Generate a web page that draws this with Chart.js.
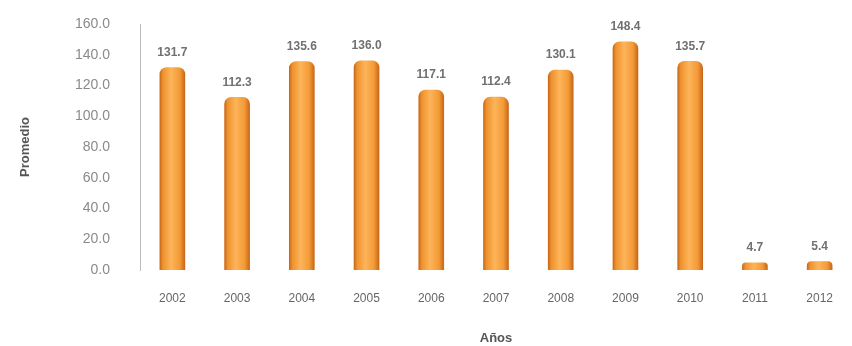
<!DOCTYPE html>
<html>
<head>
<meta charset="utf-8">
<script src="https://cdn.jsdelivr.net/npm/chart.js@4/dist/chart.umd.min.js"></script>
<style>
html,body{margin:0;padding:0;background:#fff;}
#wrap{width:852px;height:346px;position:relative;}
</style>
</head>
<body>
<div id="wrap"><canvas id="c" width="852" height="346"></canvas></div>
<script>
const categories = ["2002","2003","2004","2005","2006","2007","2008","2009","2010","2011","2012"];
const promedio = [131.7,112.3,135.6,136.0,117.1,112.4,130.1,148.4,135.7,4.7,5.4];
const yTicks = [0,20,40,60,80,100,120,140,160];

const cylinderPlugin = {
  id: 'cylinder',
  beforeDatasetsDraw(chart) {
    const ctx = chart.ctx;
    chart.getDatasetMeta(0).data.forEach(el => {
      const half = el.width / 2;
      const g = ctx.createLinearGradient(el.x - half, 0, el.x + half, 0);
      g.addColorStop(0, '#C9691A');
      g.addColorStop(0.12, '#EE922E');
      g.addColorStop(0.45, '#FDB45A');
      g.addColorStop(0.8, '#F39A36');
      g.addColorStop(1, '#C8681A');
      el.options.backgroundColor = g;
    });
  }
};

const labelPlugin = {
  id: 'valueLabels',
  afterDatasetsDraw(chart) {
    const ctx = chart.ctx;
    ctx.save();
    ctx.font = 'bold 12px "Liberation Sans", Arial, sans-serif';
    ctx.fillStyle = '#707070';
    ctx.textAlign = 'center';
    ctx.textBaseline = 'middle';
    chart.getDatasetMeta(0).data.forEach((el, i) => {
      ctx.fillText(promedio[i].toFixed(1), el.x, el.y - 15);
    });
    ctx.restore();
  }
};

new Chart(document.getElementById('c'), {
  type: 'bar',
  data: {
    labels: categories,
    datasets: [{
      data: promedio,
      backgroundColor: () => '#F5A03A',
      borderWidth: 0,
      barThickness: 25,
      borderRadius: {topLeft: 7, topRight: 7, bottomLeft: 0, bottomRight: 0},
      borderSkipped: 'bottom'
    }]
  },
  plugins: [cylinderPlugin, labelPlugin],
  options: {
    responsive: false,
    animation: false,
    layout: {padding: {top: 24, right: 0, bottom: 0, left: 0}},
    plugins: {legend: {display: false}, tooltip: {enabled: false}},
    scales: {
      x: {
        afterFit(scale) { scale.height = 76; scale.paddingLeft = 0; scale.paddingRight = 0; },
        grid: {display: false},
        border: {display: false},
        ticks: {
          padding: 13,
          color: '#666',
          font: {size: 12, family: '"Liberation Sans", Arial, sans-serif'},
          maxRotation: 0
        },
        title: {
          display: true,
          text: 'Años',
          color: '#555',
          font: {size: 13, weight: 'bold', family: '"Liberation Sans", Arial, sans-serif'},
          padding: {top: 22, bottom: 0}
        }
      },
      y: {
        min: 0,
        max: 160,
        afterBuildTicks(scale) { scale.ticks = yTicks.map(v => ({value: v})); },
        afterFit(scale) { scale.width = 140; scale.paddingTop = 0; scale.paddingBottom = 0; },
        grid: {display: false, drawTicks: false},
        border: {display: true, color: '#bdbdbd', width: 1},
        ticks: {
          padding: 30,
          color: '#8a8a8a',
          font: {size: 14, family: '"Liberation Sans", Arial, sans-serif'},
          callback: v => Number(v).toFixed(1)
        },
        title: {
          display: true,
          text: 'Promedio',
          color: '#555',
          font: {size: 13, weight: 'bold', family: '"Liberation Sans", Arial, sans-serif'},
          padding: {top: 18, bottom: 0}
        }
      }
    }
  }
});
</script>
</body>
</html>
